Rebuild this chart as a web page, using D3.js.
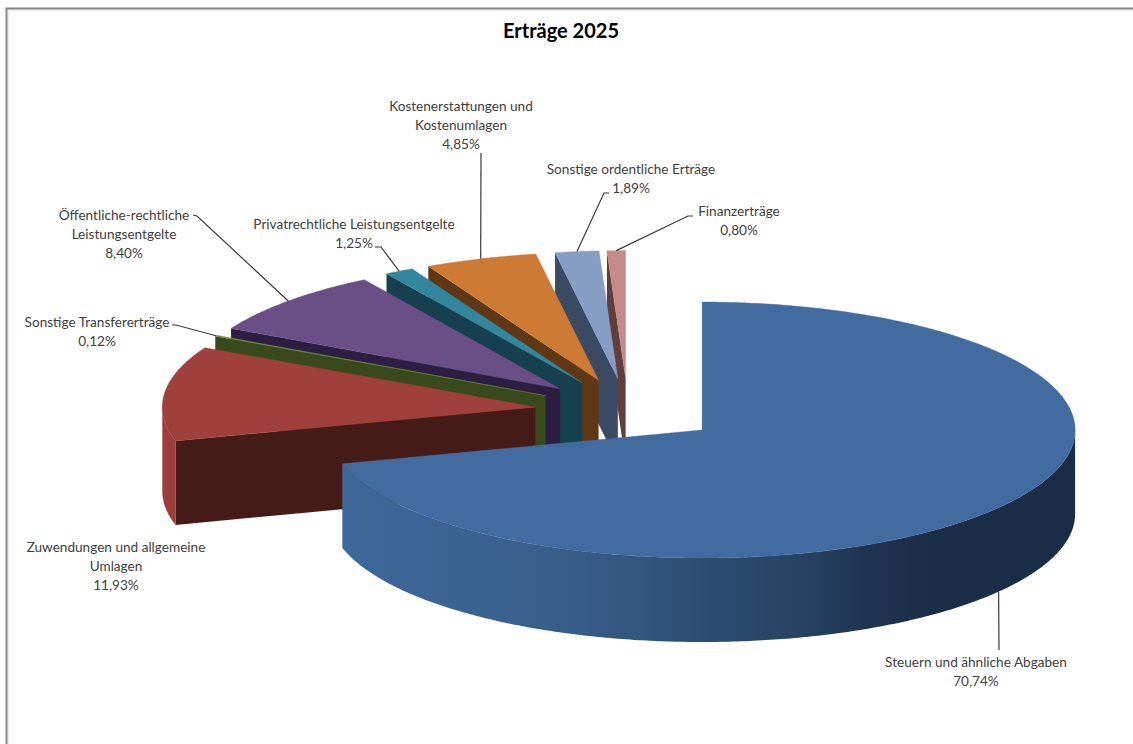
<!DOCTYPE html>
<html lang="de">
<head>
<meta charset="utf-8">
<title>Erträge 2025</title>
<script src="https://cdn.jsdelivr.net/npm/d3@7"></script>
<style>
  html, body { margin: 0; padding: 0; background: #fff; overflow: hidden; }
  text { font-family: Lato, "Open Sans", sans-serif; fill: #404040; }
</style>
</head>
<body>
<svg id="chart" width="1133" height="744"></svg>
<script>
// Ertragsarten und ihre Anteile in Prozent
const categories = [
  "Steuern und ähnliche Abgaben",
  "Zuwendungen und allgemeine Umlagen",
  "Sonstige Transfererträge",
  "Öffentliche-rechtliche Leistungsentgelte",
  "Privatrechtliche Leistungsentgelte",
  "Kostenerstattungen und Kostenumlagen",
  "Sonstige ordentliche Erträge",
  "Finanzerträge"
];
const shares = [70.74, 11.93, 0.12, 8.40, 1.25, 4.85, 1.89, 0.80];
const shareLabels = ["70,74%", "11,93%", "0,12%", "8,40%", "1,25%", "4,85%", "1,89%", "0,80%"];
const topColors = ["#426b9f", "#9f403d", "#6f8a3a", "#6a4f86", "#32879d", "#cd7b34", "#869dc4", "#c68b89"];
const wallColors = ["#3d6899", "#451b17", "#38491b", "#2c1e42", "#16404e", "#5f3714", "#3a4a63", "#5f3e3c"];
const rimColors = ["#3d6899", "#9c3e3b", "#5f7731", "#5a4272", "#2a7285", "#ad682c", "#6f83a4", "#a87573"];

// Beschriftung: Zeilen, Mittelachse, erste Grundlinie, Knickpunkte der Führungslinie
const labelLayout = [
  { lines: ["Steuern und ähnliche Abgaben"], x: 976, y: 667, leader: [[999, 650]], anchorDepth: true },
  { lines: ["Zuwendungen und allgemeine", "Umlagen"], x: 116, y: 552 },
  { lines: ["Sonstige Transfererträge"], x: 97, y: 327, leader: [[176, 325], [172, 325]] },
  { lines: ["Öffentliche-rechtliche", "Leistungsentgelte"], x: 124, y: 220, leader: [[197, 216], [193, 215]] },
  { lines: ["Privatrechtliche Leistungsentgelte"], x: 354, y: 229, leader: [[381, 247], [375, 247]] },
  { lines: ["Kostenerstattungen und", "Kostenumlagen"], x: 461, y: 111, leader: [[481, 153]] },
  { lines: ["Sonstige ordentliche Erträge"], x: 631, y: 174, leader: [[604, 193], [609, 193]] },
  { lines: ["Finanzerträge"], x: 739, y: 216, leader: [[688, 216], [693, 216]] }
];

const svg = d3.select("#chart");
const center = { x: 628, y: 410.6 };
const rx = 373, ry = 128, depth = 84, explode = 0.25;

const pie = d3.pie().sort(null).startAngle(0).endAngle(2 * Math.PI);
const slices = pie(shares).map((s, i) => {
  const mid = (s.startAngle + s.endAngle) / 2;
  return {
    ...s, i, mid,
    ox: center.x + explode * rx * Math.sin(mid),
    oy: center.y - explode * ry * Math.cos(mid)
  };
});

const rim = (s, a, drop = 0) => [
  s.ox + rx * Math.sin(a),
  s.oy - ry * Math.cos(a) + drop
];
const sampleAngles = (a0, a1) => {
  const n = Math.max(2, Math.ceil((a1 - a0) * 90));
  return d3.range(n + 1).map(k => a0 + (a1 - a0) * k / n);
};
const line = d3.line();

// Rahmen des Diagrammbereichs
svg.append("path")
  .attr("d", "M6.5,744V8.5H1133")
  .attr("fill", "none").attr("stroke", "#868686").attr("stroke-width", 2);
svg.append("path")
  .attr("d", "M8.5,744V10.5H1133")
  .attr("fill", "none").attr("stroke", "#ececec").attr("stroke-width", 1);

// Helligkeitsverlauf der Außenwand des größten Segments
const grad = svg.append("defs").append("linearGradient")
  .attr("id", "wallShade").attr("gradientUnits", "userSpaceOnUse")
  .attr("x1", 342).attr("x2", 1075).attr("y1", 0).attr("y2", 0);
[[0, "#3d6899"], [0.2, "#3a6290"], [0.35, "#365a85"], [0.5, "#2d4c72"], [0.62, "#274363"],
 [0.72, "#1e3350"], [0.82, "#1a2d46"], [1, "#1a2d46"]].forEach(([o, c]) =>
  grad.append("stop").attr("offset", o).attr("stop-color", c));

// Von hinten nach vorn zeichnen, damit vordere Segmente die hinteren überdecken
const order = slices.slice(1).reverse().concat(slices[0]);
const groups = svg.selectAll("g.slice").data(order).join("g").attr("class", "slice");

// Radiale Schnittfläche an der Startkante
groups.filter(d => d.i !== 0).append("path")
  .attr("d", d => {
    const p = rim(d, d.startAngle), q = rim(d, d.startAngle, depth);
    return line([[d.ox, d.oy], p, q, [d.ox, d.oy + depth]]) + "Z";
  })
  .attr("fill", d => wallColors[d.i]);

// Gewölbte Außenwand, soweit sie nach vorn zeigt
groups.append("path")
  .attr("d", d => {
    const a0 = Math.max(d.startAngle, Math.PI / 2);
    const a1 = Math.min(d.endAngle, 3 * Math.PI / 2);
    if (a1 <= a0) return null;
    const as = sampleAngles(a0, a1);
    return line(as.map(a => rim(d, a)).concat(as.slice().reverse().map(a => rim(d, a, depth)))) + "Z";
  })
  .attr("fill", d => d.i === 0 ? "url(#wallShade)" : rimColors[d.i]);

// Deckfläche
groups.append("path")
  .attr("d", d => line([[d.ox, d.oy]].concat(sampleAngles(d.startAngle, d.endAngle).map(a => rim(d, a)))) + "Z")
  .attr("fill", d => topColors[d.i])
  .attr("stroke", d => topColors[d.i])
  .attr("stroke-width", 0.4);

// Führungslinien beginnen am Außenrand in der Segmentmitte
svg.selectAll("path.leader")
  .data(slices.filter(d => labelLayout[d.i].leader))
  .join("path")
  .attr("class", "leader")
  .attr("d", d => {
    const l = labelLayout[d.i];
    return line([rim(d, d.mid, l.anchorDepth ? depth : 0)].concat(l.leader));
  })
  .attr("fill", "none")
  .attr("stroke", "#3a3a3a")
  .attr("stroke-width", 1.2);

// Beschriftungen aus Kategorie und Prozentwert
const lineGap = 19;
const labels = svg.selectAll("text.label").data(slices).join("text")
  .attr("class", "label")
  .attr("text-anchor", "middle")
  .attr("font-size", 13.6);
labels.each(function (d) {
  const l = labelLayout[d.i];
  const t = d3.select(this);
  l.lines.concat(shareLabels[d.i]).forEach((txt, k) => {
    t.append("tspan").attr("x", l.x).attr("y", l.y + k * lineGap).text(txt);
  });
});

// Titel
svg.append("text")
  .attr("x", 561).attr("y", 38)
  .attr("text-anchor", "middle")
  .attr("font-size", 20).attr("font-weight", 700)
  .style("fill", "#000")
  .text("Erträge 2025");
</script>
</body>
</html>
